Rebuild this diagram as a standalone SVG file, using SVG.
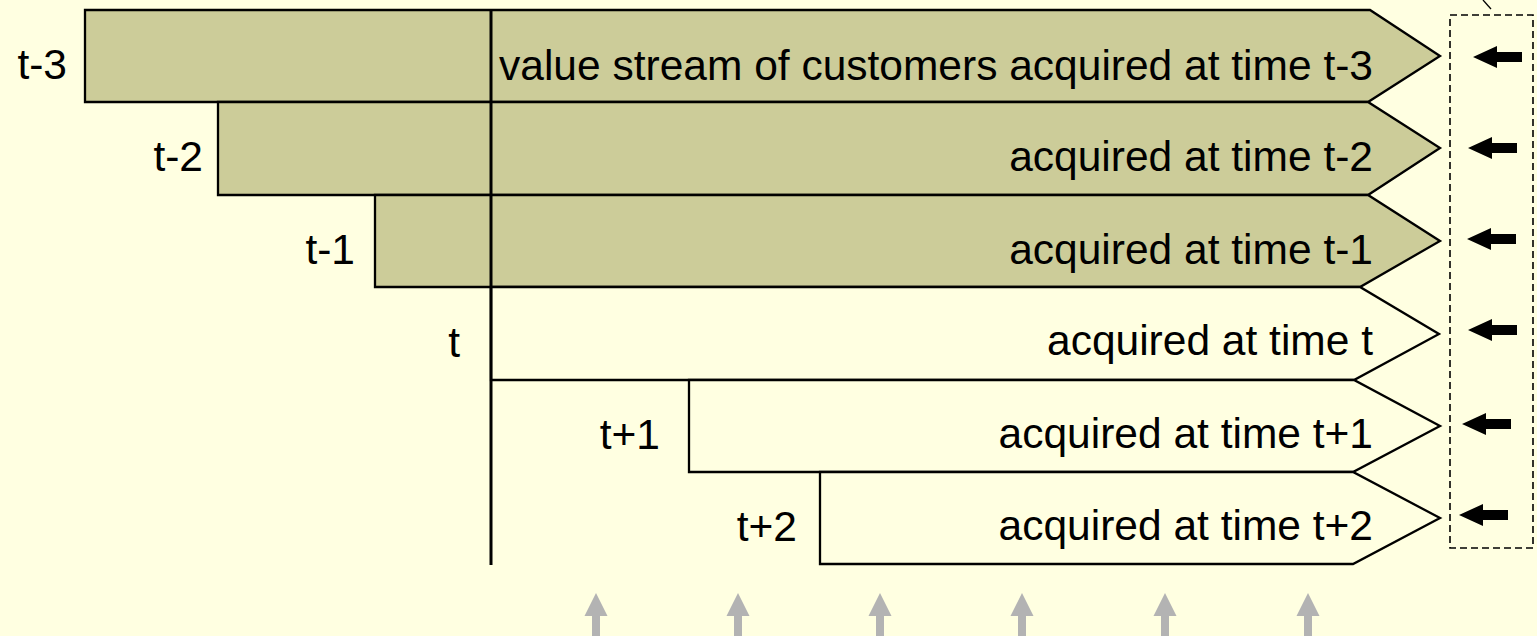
<svg xmlns="http://www.w3.org/2000/svg" width="1537" height="636" viewBox="0 0 1537 636">
  <style>
    .lbl { font-family: "Liberation Sans", Arial, sans-serif; font-size: 42.5px; fill: #000; }
    .end { text-anchor: end; }
    .band { stroke: #000; stroke-width: 2.3; stroke-linejoin: miter; }
    .old { fill: #CCCC99; }
    .new { fill: #FFFFE1; }
    .push { fill: #000; }
    .tick { fill: #B3B3B3; }
  </style>
  <defs>
    <!-- small black arrow pointing left, tip at origin -->
    <path id="leftArrow" d="M0,0 L24,-11 L24,-5 L49,-5 L49,5 L24,5 L24,11 Z"/>
    <!-- grey upward arrow, tip at origin -->
    <path id="upArrow" d="M0,0 L11.5,23 L4,23 L4,43 L-4,43 L-4,23 L-11.5,23 Z"/>
  </defs>

  <rect x="0" y="0" width="1537" height="636" fill="#FFFFE1"/>

  <g id="stream-t-3">
    <polygon class="band old" points="85,10 1370,10 1440,56 1368,102 85,102"/>
    <text class="lbl end" x="67" y="79">t-3</text>
  </g>
  <g id="stream-t-2">
    <polygon class="band old" points="218,102 1368,102 1440,148 1368,195 218,195"/>
    <text class="lbl end" x="203" y="171">t-2</text>
  </g>
  <g id="stream-t-1">
    <polygon class="band old" points="375,195 1368,195 1440,241 1360,287 375,287"/>
    <text class="lbl end" x="355" y="264">t-1</text>
  </g>
  <g id="stream-t">
    <polygon class="band new" points="491,287 1360,287 1439,334 1354,380 491,380"/>
    <text class="lbl end" x="460" y="357">t</text>
  </g>
  <g id="stream-t+1">
    <polygon class="band new" points="689,380 1354,380 1440,426 1353,472 689,472"/>
    <text class="lbl end" x="660" y="449">t+1</text>
  </g>
  <g id="stream-t+2">
    <polygon class="band new" points="820,472 1353,472 1440,518 1353,564 820,564"/>
    <text class="lbl end" x="797" y="541">t+2</text>
  </g>

  <!-- present-time divider -->
  <line x1="491" y1="10" x2="491" y2="565" stroke="#000" stroke-width="3"/>

  <g id="stream-labels">
    <text class="lbl end" x="1373" y="80">value stream of customers acquired at time t-3</text>
    <text class="lbl end" x="1373" y="171">acquired at time t-2</text>
    <text class="lbl end" x="1373" y="264">acquired at time t-1</text>
    <text class="lbl end" x="1373" y="355">acquired at time t</text>
    <text class="lbl end" x="1373" y="448">acquired at time t+1</text>
    <text class="lbl end" x="1373" y="540">acquired at time t+2</text>
  </g>

  <g id="value-column">
    <rect x="1450" y="15" width="83" height="533" fill="none" stroke="#000" stroke-width="1.6" stroke-dasharray="7 4"/>
  </g>

  <g id="connectors">
    <line x1="1483" y1="0" x2="1491" y2="9" stroke="#000" stroke-width="1.3"/>
    <use href="#leftArrow" class="push" x="1473" y="57"/>
    <use href="#leftArrow" class="push" x="1468" y="148"/>
    <use href="#leftArrow" class="push" x="1467" y="239"/>
    <use href="#leftArrow" class="push" x="1468" y="330"/>
    <use href="#leftArrow" class="push" x="1462" y="424"/>
    <use href="#leftArrow" class="push" x="1459" y="515"/>
    <use href="#upArrow" class="tick" x="596" y="593"/>
    <use href="#upArrow" class="tick" x="738" y="593"/>
    <use href="#upArrow" class="tick" x="880" y="593"/>
    <use href="#upArrow" class="tick" x="1022" y="593"/>
    <use href="#upArrow" class="tick" x="1165" y="593"/>
    <use href="#upArrow" class="tick" x="1308" y="593"/>
  </g>
</svg>
